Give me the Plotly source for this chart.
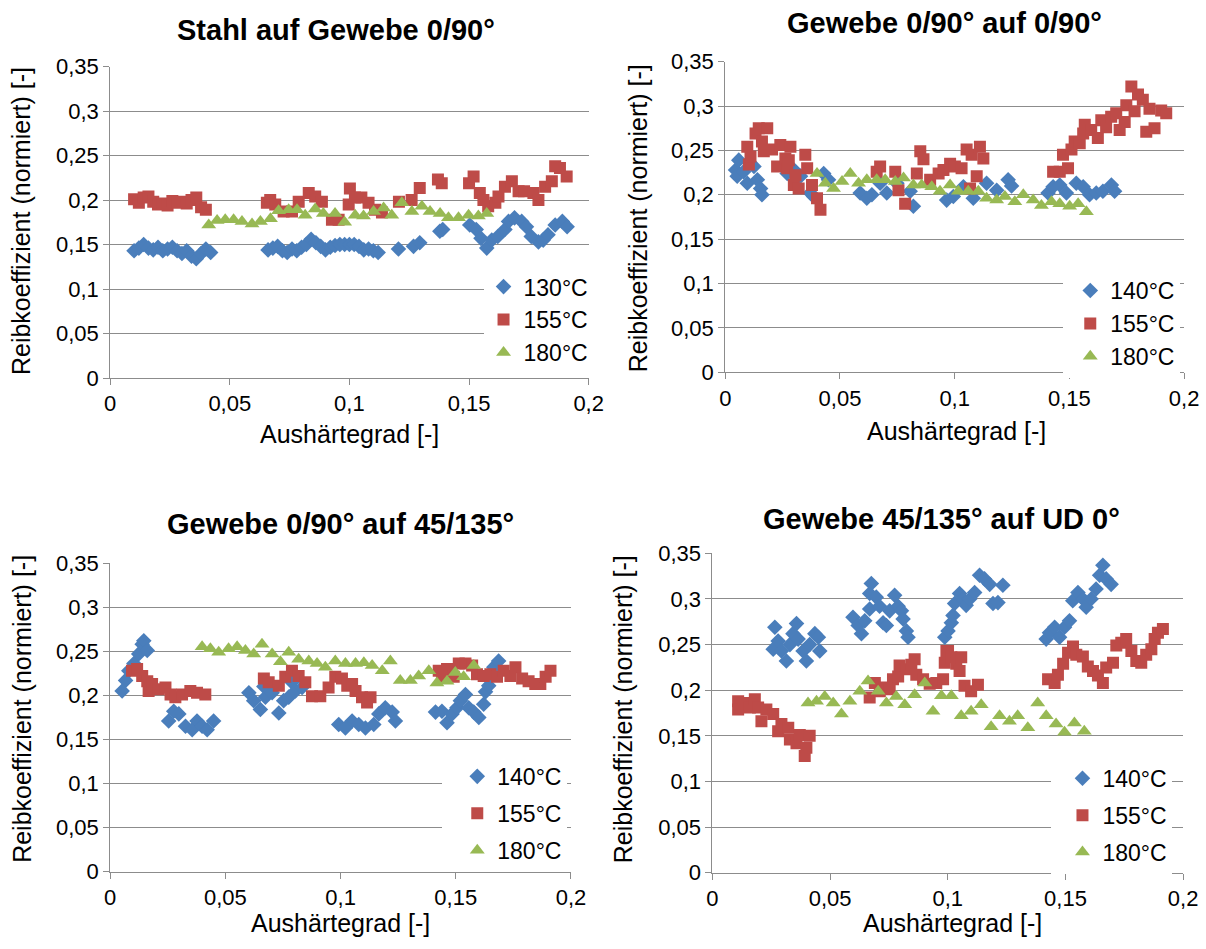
import plotly.graph_objects as go

# ---------------- data (Aushärtegrad, Reibkoeffizient) ----------------
P1_130 = [[0.010,0.143],[0.012,0.146],[0.014,0.150],[0.016,0.146],[0.018,0.144],[0.020,0.147],[0.022,0.143],[0.024,0.145],
          [0.026,0.147],[0.028,0.143],[0.030,0.140],[0.032,0.143],[0.034,0.137],[0.036,0.134],[0.038,0.140],[0.040,0.145],[0.042,0.141],
          [0.066,0.144],[0.068,0.146],[0.070,0.148],[0.072,0.143],[0.074,0.141],[0.076,0.145],[0.078,0.143],[0.080,0.147],[0.082,0.150],
          [0.084,0.156],[0.086,0.152],[0.088,0.148],[0.090,0.144],[0.092,0.147],[0.094,0.149],[0.096,0.150],[0.098,0.150],[0.100,0.150],
          [0.102,0.150],[0.104,0.148],[0.106,0.144],[0.108,0.145],[0.110,0.143],[0.112,0.141],
          [0.1205,0.145],[0.1268,0.148],[0.1294,0.152],[0.1378,0.165],[0.139,0.167],
          [0.1503,0.172],[0.153,0.167],[0.155,0.157],[0.1574,0.146],[0.1595,0.155],[0.162,0.159],[0.165,0.167],[0.1665,0.176],
          [0.169,0.180],[0.172,0.176],[0.174,0.170],[0.176,0.159],[0.179,0.153],[0.181,0.155],[0.183,0.161],[0.186,0.172],[0.189,0.176],[0.191,0.170]]
P1_155 = [[0.010,0.201],[0.012,0.197],[0.014,0.203],[0.016,0.204],[0.018,0.198],[0.020,0.195],[0.022,0.196],[0.024,0.194],
          [0.026,0.199],[0.028,0.197],[0.030,0.198],[0.032,0.196],[0.034,0.200],[0.036,0.203],[0.038,0.192],[0.040,0.189],
          [0.0655,0.197],[0.0669,0.200],[0.069,0.195],[0.0725,0.187],[0.076,0.187],[0.0788,0.198],[0.083,0.208],[0.0857,0.204],
          [0.0885,0.198],[0.0927,0.178],[0.0955,0.178],[0.0997,0.195],[0.1002,0.213],[0.1023,0.203],[0.105,0.203],[0.108,0.197],
          [0.1107,0.189],[0.1136,0.186],[0.1207,0.198],[0.126,0.200],[0.1294,0.2135],[0.137,0.223],[0.1386,0.219],[0.150,0.219],
          [0.1519,0.2265],[0.1545,0.208],[0.156,0.200],[0.158,0.193],[0.161,0.197],[0.1623,0.204],[0.165,0.215],[0.1679,0.221],
          [0.1707,0.210],[0.173,0.210],[0.1769,0.208],[0.179,0.200],[0.1818,0.215],[0.1846,0.221],[0.186,0.238],[0.188,0.236],[0.1908,0.2265]]
P1_180 = [[0.0412,0.172],[0.0447,0.177],[0.0481,0.178],[0.0516,0.178],[0.0551,0.176],[0.0593,0.173],[0.0628,0.176],[0.0670,0.179],
          [0.0704,0.188],[0.0746,0.189],[0.0781,0.189],[0.0815,0.183],[0.0857,0.190],[0.0891,0.185],[0.0940,0.185],[0.0980,0.175],
          [0.1024,0.183],[0.1059,0.182],[0.1101,0.187],[0.1143,0.191],[0.1177,0.183],[0.1219,0.197],[0.1261,0.187],[0.1303,0.193],
          [0.1337,0.187],[0.1379,0.185],[0.1414,0.180],[0.1456,0.180],[0.1498,0.183],[0.1539,0.182],[0.1574,0.185]]

P2_140 = [[0.0045,0.228],[0.0052,0.221],[0.0059,0.239],[0.008,0.226],[0.0096,0.213],[0.0125,0.232],[0.014,0.217],[0.0154,0.207],
          [0.016,0.200],[0.027,0.224],[0.030,0.228],[0.0328,0.221],[0.0371,0.202],[0.0385,0.198],[0.0429,0.224],[0.045,0.217],
          [0.0588,0.202],[0.0617,0.196],[0.0639,0.200],[0.0675,0.213],[0.0704,0.202],[0.0748,0.213],[0.0806,0.204],[0.082,0.187],
          [0.0965,0.194],[0.0994,0.198],[0.1038,0.209],[0.1081,0.196],[0.1139,0.213],[0.1183,0.205],[0.1233,0.217],[0.1248,0.210],
          [0.1407,0.202],[0.1429,0.209],[0.1458,0.211],[0.1487,0.202],[0.153,0.213],[0.156,0.209],[0.1588,0.200],[0.1617,0.202],
          [0.1646,0.204],[0.1683,0.211],[0.1697,0.204]]
P2_155 = [[0.0096,0.254],[0.0103,0.234],[0.011,0.243],[0.0132,0.269],[0.0146,0.275],[0.016,0.260],[0.0168,0.249],[0.0183,0.275],
          [0.0204,0.251],[0.0226,0.232],[0.024,0.256],[0.0262,0.241],[0.027,0.230],[0.0277,0.239],[0.0284,0.254],[0.0299,0.211],
          [0.0306,0.222],[0.032,0.207],[0.0349,0.245],[0.0357,0.230],[0.0378,0.211],[0.040,0.196],[0.0415,0.183],
          [0.066,0.226],[0.0675,0.232],[0.0741,0.226],[0.0755,0.205],[0.0784,0.190],[0.0835,0.224],[0.085,0.249],[0.0864,0.240],
          [0.0893,0.217],[0.093,0.224],[0.0951,0.228],[0.098,0.235],[0.1001,0.232],[0.103,0.230],[0.1052,0.251],[0.1067,0.207],
          [0.1074,0.245],[0.1096,0.221],[0.111,0.254],[0.1125,0.241],
          [0.1429,0.226],[0.1458,0.226],[0.1472,0.245],[0.1494,0.230],[0.1509,0.251],[0.1523,0.260],[0.1545,0.258],[0.156,0.269],
          [0.1567,0.279],[0.1595,0.273],[0.1624,0.264],[0.1639,0.284],[0.166,0.276],[0.1682,0.288],[0.1704,0.292],[0.1719,0.273],
          [0.1741,0.282],[0.1748,0.301],[0.177,0.322],[0.1784,0.294],[0.1799,0.313],[0.182,0.307],[0.1835,0.271],[0.1849,0.297],
          [0.1871,0.275],[0.190,0.295],[0.1922,0.292]]
P2_180 = [[0.0400,0.224],[0.0436,0.213],[0.0472,0.207],[0.0509,0.215],[0.0545,0.224],[0.0581,0.213],[0.0617,0.217],[0.066,0.217],
          [0.0697,0.217],[0.0741,0.215],[0.0777,0.219],[0.082,0.211],[0.0856,0.211],[0.090,0.209],[0.0936,0.204],[0.098,0.211],
          [0.1016,0.204],[0.1059,0.204],[0.1103,0.204],[0.1139,0.196],[0.1183,0.194],[0.1219,0.198],[0.1262,0.192],[0.1299,0.200],
          [0.1342,0.194],[0.1378,0.188],[0.1422,0.192],[0.1458,0.190],[0.1501,0.187],[0.1538,0.190],[0.1574,0.181]]

P3_140 = [[0.0052,0.205],[0.0067,0.217],[0.0081,0.228],[0.0103,0.236],[0.0124,0.247],[0.0139,0.258],[0.0146,0.262],[0.0161,0.251],
          [0.0254,0.171],[0.0276,0.182],[0.0298,0.179],[0.0327,0.165],[0.0356,0.161],[0.0377,0.171],[0.0399,0.165],[0.0421,0.161],
          [0.0449,0.171],[0.0602,0.203],[0.0623,0.194],[0.0652,0.184],[0.0667,0.210],[0.0674,0.198],[0.0703,0.203],[0.0732,0.180],
          [0.0753,0.194],[0.0775,0.198],[0.0789,0.215],[0.0804,0.205],[0.0833,0.209],
          [0.0992,0.167],[0.1021,0.163],[0.105,0.171],[0.1079,0.167],[0.1108,0.163],[0.1144,0.167],[0.1166,0.179],[0.1194,0.186],
          [0.1224,0.181],[0.1238,0.171],[0.1412,0.181],[0.144,0.182],[0.1462,0.169],[0.1484,0.179],[0.1505,0.186],[0.152,0.194],
          [0.1542,0.201],[0.1556,0.186],[0.1578,0.181],[0.16,0.175],[0.1621,0.19],[0.1629,0.204],[0.1643,0.211],[0.1665,0.232],[0.1686,0.239]]
P3_155 = [[0.0095,0.228],[0.0117,0.230],[0.0139,0.222],[0.0161,0.216],[0.0167,0.205],[0.0182,0.213],[0.0211,0.207],[0.024,0.209],
          [0.0262,0.201],[0.0283,0.198],[0.0312,0.201],[0.0348,0.205],[0.0377,0.203],[0.0413,0.201],
          [0.0667,0.219],[0.0688,0.215],[0.0732,0.211],[0.076,0.221],[0.0789,0.228],[0.0818,0.222],[0.0847,0.215],[0.0876,0.199],
          [0.0912,0.199],[0.0948,0.209],[0.0977,0.221],[0.1006,0.219],[0.1029,0.211],[0.105,0.213],[0.1065,0.205],[0.1093,0.198],
          [0.1115,0.192],[0.113,0.198],
          [0.1426,0.228],[0.144,0.221],[0.1462,0.230],[0.1491,0.221],[0.1513,0.236],[0.1542,0.236],[0.1571,0.234],[0.1592,0.224],
          [0.1621,0.222],[0.165,0.224],[0.1679,0.221],[0.1708,0.228],[0.1737,0.222],[0.1759,0.232],[0.1788,0.219],[0.1816,0.216],
          [0.1845,0.213],[0.1867,0.213],[0.189,0.221],[0.1911,0.228]]
P3_180 = [[0.0399,0.255],[0.0435,0.253],[0.0471,0.249],[0.0514,0.253],[0.0551,0.255],[0.0587,0.251],[0.0623,0.247],[0.0659,0.258],
          [0.0703,0.247],[0.0739,0.238],[0.0775,0.249],[0.0818,0.241],[0.0862,0.239],[0.0898,0.236],[0.0934,0.232],[0.0977,0.239],
          [0.1021,0.236],[0.1065,0.236],[0.1101,0.237],[0.1137,0.234],[0.1181,0.228],[0.1216,0.239],[0.1259,0.217],[0.1303,0.217],
          [0.1339,0.222],[0.1383,0.228],[0.1418,0.214],[0.1462,0.216],[0.1498,0.226],[0.1534,0.221],[0.1578,0.234]]

P4_140 = [[0.0258,0.245],[0.0265,0.269],[0.0279,0.254],[0.0293,0.243],[0.0314,0.232],[0.0329,0.250],[0.0342,0.262],[0.0357,0.273],
          [0.0364,0.256],[0.0385,0.243],[0.0399,0.232],[0.0413,0.250],[0.0435,0.262],[0.0450,0.258],[0.0456,0.243],
          [0.0597,0.280],[0.0619,0.271],[0.0633,0.262],[0.0647,0.276],[0.0668,0.289],[0.0668,0.306],[0.0675,0.317],[0.0696,0.302],
          [0.071,0.292],[0.0725,0.274],[0.0739,0.271],[0.0753,0.287],[0.0774,0.304],[0.0789,0.292],[0.0803,0.287],[0.081,0.278],
          [0.0824,0.265],[0.0831,0.258],
          [0.0987,0.258],[0.1001,0.265],[0.1015,0.274],[0.1022,0.282],[0.1029,0.295],[0.105,0.306],[0.1064,0.300],[0.1078,0.293],
          [0.1093,0.300],[0.1114,0.307],[0.1135,0.326],[0.1156,0.322],[0.1178,0.316],[0.1192,0.295],[0.1213,0.296],[0.1234,0.315],
          [0.1418,0.256],[0.1432,0.263],[0.1454,0.269],[0.1475,0.258],[0.1496,0.269],[0.1517,0.276],[0.1531,0.298],[0.1553,0.307],
          [0.1574,0.300],[0.1588,0.291],[0.1609,0.300],[0.163,0.311],[0.1645,0.326],[0.1659,0.337],[0.1673,0.322],[0.1694,0.316]]
P4_155 = [[0.0109,0.188],[0.0109,0.179],[0.013,0.186],[0.0159,0.181],[0.018,0.190],[0.0194,0.181],[0.0208,0.166],[0.0229,0.179],
          [0.0258,0.174],[0.0279,0.155],[0.0293,0.163],[0.0322,0.159],[0.0329,0.146],[0.0357,0.142],[0.0371,0.151],[0.0392,0.128],
          [0.0399,0.137],[0.0413,0.150],
          [0.0668,0.192],[0.069,0.208],[0.0711,0.199],[0.0732,0.203],[0.0753,0.201],[0.0767,0.212],[0.0789,0.215],[0.0795,0.227],
          [0.0824,0.223],[0.0845,0.228],[0.0859,0.234],[0.0866,0.217],[0.0895,0.212],[0.0923,0.207],[0.0951,0.208],[0.098,0.212],
          [0.0987,0.230],[0.0994,0.243],[0.1001,0.243],[0.1015,0.236],[0.1036,0.229],[0.1057,0.236],[0.105,0.221],[0.1071,0.205],
          [0.1099,0.199],[0.1128,0.206],
          [0.1426,0.212],[0.1454,0.208],[0.1468,0.217],[0.149,0.229],[0.1511,0.241],[0.1532,0.248],[0.1546,0.239],[0.1574,0.237],
          [0.1595,0.226],[0.1617,0.221],[0.1638,0.216],[0.1659,0.208],[0.1673,0.225],[0.1702,0.230],[0.1716,0.249],[0.1737,0.252],
          [0.1758,0.256],[0.178,0.243],[0.1801,0.232],[0.1822,0.230],[0.1843,0.239],[0.1865,0.245],[0.1879,0.256],[0.1893,0.263],[0.1914,0.267]]
P4_180 = [[0.0406,0.186],[0.0442,0.188],[0.0477,0.193],[0.0513,0.186],[0.0548,0.174],[0.0584,0.188],[0.0626,0.199],[0.0661,0.210],
          [0.0704,0.199],[0.0739,0.186],[0.0781,0.193],[0.0817,0.184],[0.0859,0.195],[0.0902,0.208],[0.0937,0.177],[0.0973,0.194],
          [0.1015,0.194],[0.1057,0.172],[0.1099,0.177],[0.1142,0.184],[0.1184,0.160],[0.122,0.172],[0.1262,0.166],[0.1297,0.172],
          [0.134,0.159],[0.1382,0.186],[0.1418,0.172],[0.146,0.163],[0.1496,0.154],[0.1538,0.164],[0.158,0.155]]

TITLES = ["Stahl auf Gewebe 0/90°", "Gewebe 0/90° auf 0/90°", "Gewebe 0/90° auf 45/135°", "Gewebe 45/135° auf UD 0°"]
SERIES_NAMES = [["130°C", "155°C", "180°C"], ["140°C", "155°C", "180°C"],
                ["140°C", "155°C", "180°C"], ["140°C", "155°C", "180°C"]]
PANEL_DATA = [[P1_130, P1_155, P1_180], [P2_140, P2_155, P2_180],
              [P3_140, P3_155, P3_180], [P4_140, P4_155, P4_180]]
X_TITLE = "Aushärtegrad [-]"
Y_TITLE = "Reibkoeffizient (normiert) [-]"

# ---------------- styling ----------------
W, H = 1206, 949
FONT = "Liberation Sans, Arial, sans-serif"
GRID = "#8c8c8c"
COLORS = ["#4A7EBB", "#BE4B48", "#98B954"]
SYMBOLS = ["diamond", "square", "triangle-up"]
SIZES = [12, 12, 13]

# plot-area boxes in pixels: (left, right, top, bottom)
BOXES = [(106, 593, 56, 376), (732, 1199, 51, 370), (106, 575, 566, 883), (719, 1198, 556, 884)]
TITLE_POS = [(336, 19), (955, 11), (340, 526), (952, 521)]
XT_POS = [(350, 433), (967, 430), (340, 936), (963, 936)]
YT_POS = [(16, 215), (644, 212), (16, 716), (628, 716)]
LEG_POS = [(486, 260, 0, 0), (1076, 264, 7, 0), (444, 763, 15, 4), (1064, 765, 11, 4)]

def px(x): return x / W
def py(y): return 1 - y / H

fig = go.Figure()
layout = dict(width=W, height=H, margin=dict(l=0, r=0, t=0, b=0), autosize=False,
              paper_bgcolor="white", plot_bgcolor="white", separators=", ",
              font=dict(family=FONT, color="black", size=22), showlegend=True)
annotations = []

for i in range(4):
    sfx = "" if i == 0 else str(i + 1)
    leg = "legend" if i == 0 else "legend" + str(i + 1)
    l, r, t, b = BOXES[i]
    for j in range(3):
        pts = PANEL_DATA[i][j]
        fig.add_trace(go.Scatter(
            x=[p[0] for p in pts], y=[p[1] for p in pts], mode="markers",
            name=SERIES_NAMES[i][j], xaxis="x" + sfx, yaxis="y" + sfx, legend=leg,
            legendgroup="g%d_%d" % (i, j),
            marker=dict(symbol=SYMBOLS[j], size=SIZES[j], color=COLORS[j], line=dict(width=0))))
    layout["xaxis" + sfx] = dict(domain=[px(l), px(r)], anchor="y" + sfx, range=[0, 0.2], tick0=0, dtick=0.05,
                                 showgrid=False, zeroline=False, showline=True, linecolor=GRID, linewidth=1,
                                 ticks="outside", ticklen=6, tickcolor=GRID, tickfont=dict(size=22, family=FONT))
    layout["yaxis" + sfx] = dict(domain=[py(b), py(t)], anchor="x" + sfx, range=[0, 0.35], tick0=0, dtick=0.05,
                                 showgrid=True, gridcolor=GRID, gridwidth=1, zeroline=False, showline=True,
                                 linecolor=GRID, linewidth=1, ticks="outside", ticklen=6, tickcolor=GRID,
                                 tickfont=dict(size=22, family=FONT))
    lx, ly, ind, gap = LEG_POS[i]
    layout[leg] = dict(x=px(lx), y=py(ly), xanchor="left", yanchor="top", bgcolor="white",
                       font=dict(size=23, family=FONT), itemwidth=30, indentation=ind,
                       traceorder="grouped", tracegroupgap=gap, borderwidth=0)
    annotations.append(dict(text="<b>%s</b>" % TITLES[i], x=px(TITLE_POS[i][0]), y=py(TITLE_POS[i][1]),
                            xref="paper", yref="paper", xanchor="center", yanchor="middle", showarrow=False,
                            font=dict(size=29, family=FONT)))
    annotations.append(dict(text=X_TITLE, x=px(XT_POS[i][0]), y=py(XT_POS[i][1]), xref="paper", yref="paper",
                            xanchor="center", yanchor="middle", showarrow=False, font=dict(size=25, family=FONT)))
    annotations.append(dict(text=Y_TITLE, x=px(YT_POS[i][0]), y=py(YT_POS[i][1]), xref="paper", yref="paper",
                            xanchor="center", yanchor="middle", showarrow=False, textangle=-90,
                            font=dict(size=25, family=FONT)))

layout["annotations"] = annotations
fig.update_layout(**layout)
fig.write_html("out.html")
